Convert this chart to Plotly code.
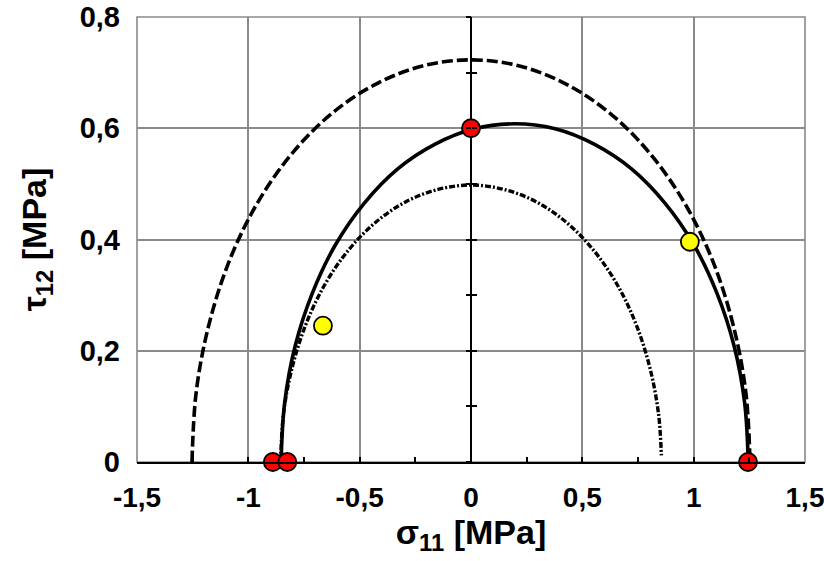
import plotly.graph_objects as go

# ---- data ----
# outer dashed envelope
outer_x = [-1.253, -1.234, -1.177, -1.085, -0.960, -0.805, -0.627, -0.429, -0.218, 0.0,
           0.218, 0.429, 0.627, 0.805, 0.960, 1.085, 1.177, 1.234, 1.253]
outer_y = [0.0, 0.126, 0.247, 0.362, 0.465, 0.554, 0.626, 0.679, 0.712, 0.723,
           0.712, 0.679, 0.626, 0.554, 0.465, 0.362, 0.247, 0.126, 0.0]

# middle solid envelope
mid_x = [-0.853, -0.837, -0.790, -0.712, -0.608, -0.478, -0.329, -0.163, 0.014, 0.196,
         0.378, 0.555, 0.721, 0.870, 1.000, 1.104, 1.182, 1.229, 1.245]
mid_y = [0.0, 0.106, 0.208, 0.304, 0.391, 0.466, 0.527, 0.571, 0.599, 0.608,
         0.599, 0.571, 0.527, 0.466, 0.391, 0.304, 0.208, 0.106, 0.0]

# inner dash-dot envelope
inner_x = [-0.855, -0.842, -0.803, -0.740, -0.655, -0.550, -0.428, -0.292, -0.148, 0.0,
           0.148, 0.292, 0.428, 0.550, 0.655, 0.740, 0.803, 0.842, 0.855]
inner_y = [0.0, 0.087, 0.170, 0.249, 0.320, 0.381, 0.431, 0.468, 0.490, 0.498,
           0.490, 0.468, 0.431, 0.381, 0.320, 0.249, 0.170, 0.087, 0.012]

# experimental points
red_x = [-0.89, -0.825, 0.0, 1.244]
red_y = [0.0, 0.0, 0.60, 0.0]
yellow_x = [-0.665, 0.983]
yellow_y = [0.245, 0.396]

x_tickvals = [-1.5, -1.0, -0.5, 0.0, 0.5, 1.0, 1.5]
x_ticktext = ["-1,5", "-1", "-0,5", "0", "0,5", "1", "1,5"]
x_minor = [-1.25, -0.75, -0.25, 0.25, 0.75, 1.25]

fig = go.Figure()
fig.add_trace(go.Scatter(x=outer_x, y=outer_y, mode="lines",
                         line=dict(color="black", width=3.6, dash="11px,4px", shape="spline"),
                         hoverinfo="skip"))
fig.add_trace(go.Scatter(x=inner_x, y=inner_y, mode="lines",
                         line=dict(color="black", width=3.4, dash="6px,2px,2px,2px", shape="spline"),
                         hoverinfo="skip"))
fig.add_trace(go.Scatter(x=mid_x, y=mid_y, mode="lines",
                         line=dict(color="black", width=3.6, shape="spline"),
                         hoverinfo="skip"))
fig.add_trace(go.Scatter(x=red_x, y=red_y, mode="markers", cliponaxis=False,
                         marker=dict(color="#FF0000", size=18, line=dict(color="black", width=1.8))))
fig.add_trace(go.Scatter(x=yellow_x, y=yellow_y, mode="markers", cliponaxis=False,
                         marker=dict(color="#FFFF00", size=18, line=dict(color="black", width=1.8))))
# helper traces so the tick axes on sigma=0 exist
fig.add_trace(go.Scatter(x=[0], y=[0], yaxis="y2", mode="markers", marker=dict(opacity=0), hoverinfo="skip"))
fig.add_trace(go.Scatter(x=[0], y=[0], yaxis="y3", mode="markers", marker=dict(opacity=0), hoverinfo="skip"))

fig.add_shape(type="rect", xref="paper", yref="paper", x0=0, x1=1, y0=0, y1=1,
              line=dict(color="#8a8a8a", width=1.6), layer="below")

fig.update_layout(
    width=824, height=561,
    margin=dict(l=137, r=19, t=17, b=99),
    paper_bgcolor="white", plot_bgcolor="white",
    showlegend=False,
    separators=",.",
    font=dict(family="Liberation Sans, Arial, sans-serif", color="black"),
    xaxis=dict(
        automargin=False,
        ticklabeloverflow="allow",
        range=[-1.5, 1.5], tickmode="array", tickvals=x_tickvals, ticktext=x_ticktext,
        showgrid=True, gridcolor="#8a8a8a", gridwidth=1.6,
        zeroline=True, zerolinecolor="black", zerolinewidth=2.2,
        showline=True, linecolor="black", linewidth=2.2,
        ticks="inside", ticklen=5, tickwidth=1.6, tickcolor="black",
        minor=dict(tickvals=x_minor, ticks="inside", ticklen=5, tickwidth=1.6,
                   tickcolor="black", showgrid=False),
        tickfont=dict(size=28, weight="bold"),
        ticklabelstandoff=9,
        title=dict(text="σ<sub>11</sub> [MPa]", font=dict(size=34, weight="bold"), standoff=8),
    ),
    yaxis=dict(
        automargin=False,
        ticklabeloverflow="allow",
        range=[0, 0.8], tick0=0, dtick=0.2,
        showgrid=True, gridcolor="#8a8a8a", gridwidth=1.6,
        zeroline=False, showline=False, ticks="",
        tickfont=dict(size=29, weight="bold"),
        ticklabelstandoff=16,
        title=dict(text="τ<sub>12</sub> [MPa]", font=dict(size=34, weight="bold"), standoff=22),
    ),
    yaxis2=dict(
        automargin=False,
        overlaying="y", anchor="free", position=0.5, range=[0, 0.8],
        tick0=0, dtick=0.1, ticks="inside", ticklen=5, tickwidth=1.6, tickcolor="black",
        showticklabels=False, showgrid=False, zeroline=False, showline=False,
    ),
    yaxis3=dict(
        automargin=False,
        overlaying="y", anchor="free", position=0.5, range=[0, 0.8],
        tick0=0, dtick=0.1, ticks="outside", ticklen=5, tickwidth=1.6, tickcolor="black",
        showticklabels=False, showgrid=False, zeroline=False, showline=False,
    ),
)

fig.write_html("out.html")
